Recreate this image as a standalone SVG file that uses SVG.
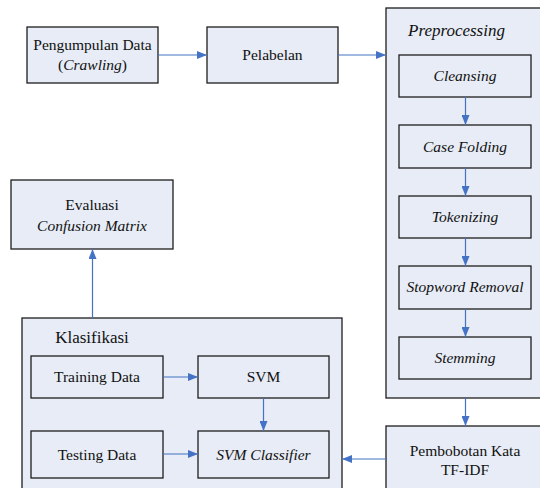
<svg xmlns="http://www.w3.org/2000/svg" width="540" height="488" viewBox="0 0 540 488">
  <defs>
    <marker id="arrow" viewBox="0 0 10 8" refX="10" refY="4" markerWidth="10" markerHeight="8" markerUnits="userSpaceOnUse" orient="auto">
      <path d="M0,0 L10,4 L0,8 Z" fill="#4472c4"/>
    </marker>
  </defs>
  <rect width="540" height="488" fill="#ffffff"/>

  <!-- boxes share fill and outline; labels share font settings -->
  <g fill="#e7ecf6" stroke="#1e1e1e" stroke-width="1.3">
    <g id="preprocessing">
      <rect x="386" y="8" width="160" height="390"/>
      <text font-family="Liberation Serif" font-size="17" font-style="italic" fill="#111" stroke="none" text-anchor="middle" x="456.5" y="36">Preprocessing</text>
    </g>
    <g id="klasifikasi">
      <rect x="22" y="318" width="320" height="180"/>
      <text font-family="Liberation Serif" font-size="17" fill="#111" stroke="none" text-anchor="middle" x="92" y="343">Klasifikasi</text>
    </g>
    <g id="pengumpulan">
      <rect x="27" y="27" width="131" height="56"/>
      <text font-family="Liberation Serif" font-size="15.5" fill="#111" stroke="none" text-anchor="middle" x="92.5" y="49.5">Pengumpulan Data</text>
      <text font-family="Liberation Serif" font-size="15.5" fill="#111" stroke="none" text-anchor="middle" x="92.5" y="70">(<tspan font-style="italic">Crawling</tspan>)</text>
    </g>
    <g id="pelabelan">
      <rect x="207" y="27" width="131" height="56"/>
      <text font-family="Liberation Serif" font-size="15.5" fill="#111" stroke="none" text-anchor="middle" x="272.5" y="60">Pelabelan</text>
    </g>
    <g id="cleansing">
      <rect x="399" y="55" width="132" height="42"/>
      <text font-family="Liberation Serif" font-size="15.5" font-style="italic" fill="#111" stroke="none" text-anchor="middle" x="465" y="81">Cleansing</text>
    </g>
    <g id="casefolding">
      <rect x="399" y="125" width="132" height="43"/>
      <text font-family="Liberation Serif" font-size="15.5" font-style="italic" fill="#111" stroke="none" text-anchor="middle" x="465" y="152">Case Folding</text>
    </g>
    <g id="tokenizing">
      <rect x="399" y="196" width="132" height="42"/>
      <text font-family="Liberation Serif" font-size="15.5" font-style="italic" fill="#111" stroke="none" text-anchor="middle" x="465" y="222">Tokenizing</text>
    </g>
    <g id="stopword">
      <rect x="399" y="266" width="132" height="43"/>
      <text font-family="Liberation Serif" font-size="15.5" font-style="italic" fill="#111" stroke="none" text-anchor="middle" x="465" y="292">Stopword Removal</text>
    </g>
    <g id="stemming">
      <rect x="399" y="337" width="132" height="42"/>
      <text font-family="Liberation Serif" font-size="15.5" font-style="italic" fill="#111" stroke="none" text-anchor="middle" x="465" y="363">Stemming</text>
    </g>
    <g id="pembobotan">
      <rect x="386" y="426" width="160" height="70"/>
      <text font-family="Liberation Serif" font-size="15.5" fill="#111" stroke="none" text-anchor="middle" x="465" y="456">Pembobotan Kata</text>
      <text font-family="Liberation Serif" font-size="15.5" fill="#111" stroke="none" text-anchor="middle" x="465" y="475">TF-IDF</text>
    </g>
    <g id="evaluasi">
      <rect x="11" y="180" width="162" height="69"/>
      <text font-family="Liberation Serif" font-size="15.5" fill="#111" stroke="none" text-anchor="middle" x="92" y="210">Evaluasi</text>
      <text font-family="Liberation Serif" font-size="15.5" font-style="italic" fill="#111" stroke="none" text-anchor="middle" x="92" y="231">Confusion Matrix</text>
    </g>
    <g id="training">
      <rect x="31" y="356" width="132" height="42"/>
      <text font-family="Liberation Serif" font-size="15.5" fill="#111" stroke="none" text-anchor="middle" x="97" y="382">Training Data</text>
    </g>
    <g id="svm">
      <rect x="198" y="356" width="131" height="42"/>
      <text font-family="Liberation Serif" font-size="15.5" fill="#111" stroke="none" text-anchor="middle" x="263.5" y="382">SVM</text>
    </g>
    <g id="testing">
      <rect x="31" y="431" width="132" height="47"/>
      <text font-family="Liberation Serif" font-size="15.5" fill="#111" stroke="none" text-anchor="middle" x="97" y="460">Testing Data</text>
    </g>
    <g id="svmclassifier">
      <rect x="198" y="431" width="131" height="47"/>
      <text font-family="Liberation Serif" font-size="15.5" font-style="italic" fill="#111" stroke="none" text-anchor="middle" x="263.5" y="460">SVM Classifier</text>
    </g>
  </g>

  <!-- connectors -->
  <g id="connectors" stroke="#4472c4" stroke-width="1.2" fill="none" marker-end="url(#arrow)">
    <line x1="158" y1="55" x2="207" y2="55"/>
    <line x1="338" y1="55" x2="386" y2="55"/>
    <line x1="465.5" y1="97" x2="465.5" y2="125"/>
    <line x1="465.5" y1="168" x2="465.5" y2="196"/>
    <line x1="465.5" y1="238" x2="465.5" y2="266"/>
    <line x1="465.5" y1="309" x2="465.5" y2="337"/>
    <line x1="465.5" y1="398" x2="465.5" y2="426"/>
    <line x1="386" y1="459" x2="342" y2="459"/>
    <line x1="163" y1="377" x2="198" y2="377"/>
    <line x1="163" y1="454" x2="198" y2="454"/>
    <line x1="263.5" y1="398" x2="263.5" y2="431"/>
    <line x1="92.5" y1="318" x2="92.5" y2="249"/>
  </g>
</svg>
